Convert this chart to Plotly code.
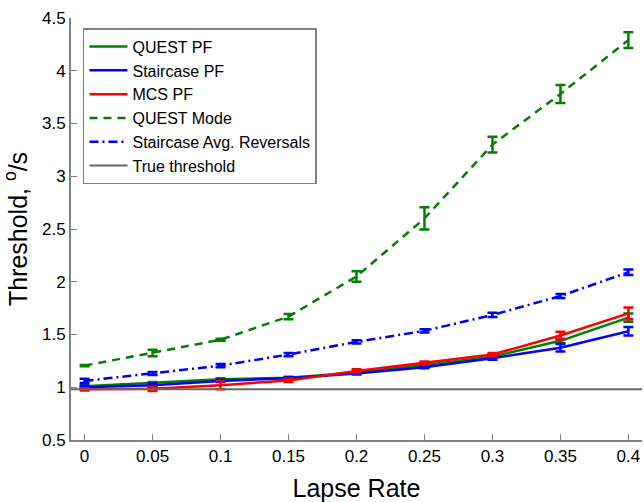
import plotly.graph_objects as go

lapse = [0, 0.05, 0.1, 0.15, 0.2, 0.25, 0.3, 0.35, 0.4]

quest_pf = [1.01, 1.04, 1.075, 1.09, 1.14, 1.21, 1.29, 1.44, 1.66]
quest_pf_err = [0.01, 0.01, 0.01, 0.01, 0.01, 0.01, 0.015, 0.02, 0.04]

stair_pf = [1.00, 1.02, 1.06, 1.085, 1.13, 1.19, 1.275, 1.375, 1.53]
stair_pf_err = [0.015, 0.015, 0.01, 0.01, 0.01, 0.01, 0.015, 0.035, 0.04]

mcs_pf = [0.98, 0.985, 1.02, 1.065, 1.155, 1.23, 1.31, 1.49, 1.70]
mcs_pf_err = [0.01, 0.02, 0.04, 0.015, 0.015, 0.015, 0.015, 0.035, 0.055]

quest_mode = [1.205, 1.325, 1.45, 1.67, 2.05, 2.60, 3.30, 3.78, 4.29]
quest_mode_err = [0.005, 0.03, 0.01, 0.025, 0.05, 0.105, 0.075, 0.085, 0.075]

stair_rev = [1.06, 1.13, 1.205, 1.31, 1.43, 1.535, 1.685, 1.865, 2.09]
stair_rev_err = [0.02, 0.015, 0.015, 0.015, 0.015, 0.015, 0.02, 0.02, 0.025]

true_threshold = 0.98
x_limits = [-0.01, 0.41]
y_limits = [0.5, 4.5]

x_ticks = [0, 0.05, 0.1, 0.15, 0.2, 0.25, 0.3, 0.35, 0.4]
x_tick_labels = ["0", "0.05", "0.1", "0.15", "0.2", "0.25", "0.3", "0.35", "0.4"]
y_ticks = [0.5, 1, 1.5, 2, 2.5, 3, 3.5, 4, 4.5]
y_tick_labels = ["0.5", "1", "1.5", "2", "2.5", "3", "3.5", "4", "4.5"]

GREEN = "#008000"
BLUE = "#0000FF"
RED = "#FF0000"

fig = go.Figure()

def add_series(name, y, err, color, dash):
    fig.add_trace(go.Scatter(
        x=lapse, y=y, name=name, mode="lines",
        line=dict(color=color, width=2.5, dash=dash),
        error_y=dict(type="data", array=err, visible=True, color=color,
                     thickness=2.5, width=5),
    ))

add_series("QUEST PF", quest_pf, quest_pf_err, GREEN, "solid")
add_series("Staircase PF", stair_pf, stair_pf_err, BLUE, "solid")
add_series("MCS PF", mcs_pf, mcs_pf_err, RED, "solid")
add_series("QUEST Mode", quest_mode, quest_mode_err, GREEN, "8px,6px")
add_series("Staircase Avg. Reversals", stair_rev, stair_rev_err, BLUE, "9px,4px,2px,4px")

fig.add_trace(go.Scatter(
    x=x_limits, y=[true_threshold, true_threshold], name="True threshold",
    mode="lines", line=dict(color="#666666", width=2),
))

fig.update_layout(
    width=644, height=502,
    margin=dict(l=71, r=2, t=18, b=62),
    paper_bgcolor="white", plot_bgcolor="white",
    font=dict(family="Liberation Sans, Arial, sans-serif", size=17, color="black"),
    showlegend=True,
    legend=dict(
        x=0.021, y=0.976, xanchor="left", yanchor="top",
        bgcolor="white", bordercolor="#808080", borderwidth=1.5,
        font=dict(size=16), itemwidth=38, tracegroupgap=0,
    ),
    xaxis=dict(
        range=x_limits, tickvals=x_ticks, ticktext=x_tick_labels,
        showgrid=False, zeroline=False, showline=True, linecolor="#808080", linewidth=2,
        ticks="inside", ticklen=6, tickcolor="#808080", tickwidth=1,
        title=dict(text="Lapse Rate", font=dict(size=25), standoff=18),
        mirror=False, automargin=False,
    ),
    yaxis=dict(
        range=y_limits, tickvals=y_ticks, ticktext=y_tick_labels,
        showgrid=False, zeroline=False, showline=True, linecolor="#808080", linewidth=2,
        ticks="inside", ticklen=6, tickcolor="#808080", tickwidth=1,
        title=dict(text="Threshold, <sup>o</sup>/s", font=dict(size=25), standoff=10),
        mirror=False, automargin=False,
    ),
)

fig.write_html("out.html",
               config={"displayModeBar": False},
               post_script="document.body.style.margin='0';document.body.style.padding='0';")
